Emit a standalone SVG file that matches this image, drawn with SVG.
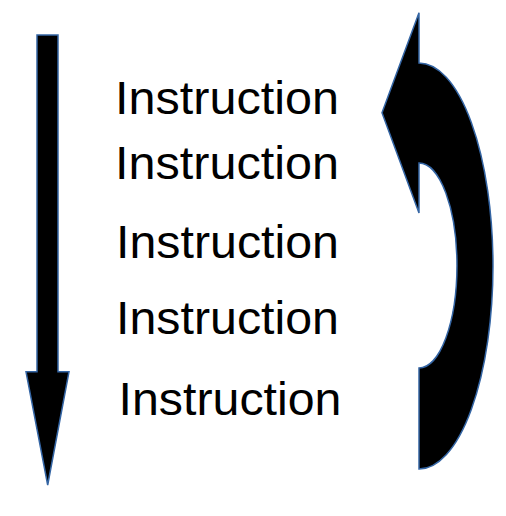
<svg xmlns="http://www.w3.org/2000/svg" width="506" height="516" viewBox="0 0 506 516">
<style>
.arrow{fill:#000;stroke:#3465a4;stroke-width:1.5;stroke-linejoin:miter}
.lbl{font-family:"Liberation Sans",Arial,sans-serif;font-size:46.5px;fill:#000}
</style>
<rect width="506" height="516" fill="#fff"/>
<g id="connectors">
<path id="down-arrow" class="arrow" d="M37,35 L58,35 L58,371.7 L69,371.7 L47.7,485 L26,371.7 L37,371.7 Z"/>
<path id="loop-arrow" class="arrow" d="M419,12.7 L382,112.7 L419,213 L419,163 A38,102.5 0 0 1 419,368 L419,469 A74,203 0 0 0 419,63 Z"/>
</g>
<g id="instr1"><text class="lbl" x="115" y="114.3" textLength="224" lengthAdjust="spacingAndGlyphs">Instruction</text></g>
<g id="instr2"><text class="lbl" x="115" y="179.3" textLength="224" lengthAdjust="spacingAndGlyphs">Instruction</text></g>
<g id="instr3"><text class="lbl" x="116" y="258.3" textLength="223" lengthAdjust="spacingAndGlyphs">Instruction</text></g>
<g id="instr4"><text class="lbl" x="116" y="334.3" textLength="223" lengthAdjust="spacingAndGlyphs">Instruction</text></g>
<g id="instr5"><text class="lbl" x="118.5" y="415" textLength="223" lengthAdjust="spacingAndGlyphs">Instruction</text></g>
</svg>
